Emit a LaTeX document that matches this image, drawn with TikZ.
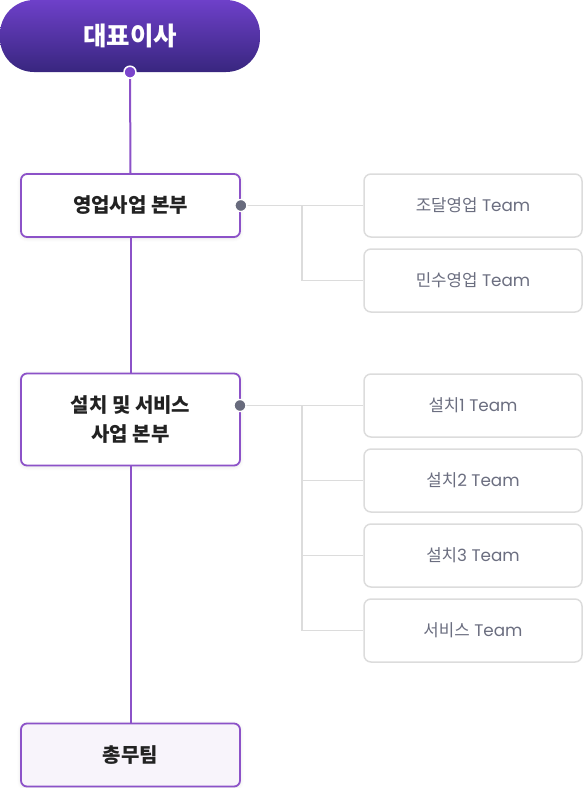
\documentclass[tikz,border=0pt]{standalone}
\usepackage{fontspec}
\setmainfont{Noto Sans CJK KR}
\newfontfamily\pop{Poppins}
\usetikzlibrary{shadows.blur}
\definecolor{topA}{HTML}{6E40C9}
\definecolor{topB}{HTML}{38267F}
\definecolor{pline}{HTML}{8C52C8}
\definecolor{gline}{HTML}{DCDCDC}
\definecolor{gtext}{HTML}{6B6E80}
\definecolor{dtext}{HTML}{222222}
\definecolor{lav}{HTML}{F8F4FB}
\definecolor{gdot}{HTML}{686B7D}
\definecolor{pdot}{HTML}{7B45CC}
\tikzset{
  x=1pt, y=-1pt,
  headbox/.style={rounded corners=34pt, top color=topA, bottom color=topB, draw=none,
    minimum width=260pt, minimum height=72pt, inner sep=0pt, text=white, font=\bfseries\fontsize{25.5}{30}\selectfont},
  divbox/.style={rounded corners=6pt, draw=pline, line width=1.8pt, fill=white,
    minimum width=219pt, minimum height=63pt, inner sep=0pt, text=dtext, align=center,
    font=\bfseries\fontsize{20}{28.5}\selectfont, blur shadow={shadow blur steps=6, shadow xshift=0pt, shadow yshift=-1pt, shadow opacity=12, shadow blur radius=4pt}},
  teambox/.style={rounded corners=7pt, draw=gline, line width=1.5pt, fill=white,
    minimum width=218pt, minimum height=63pt, inner sep=0pt, text=gtext, font=\fontsize{16.8}{20}\selectfont},
  pconn/.style={draw=pline, line width=2pt},
  gconn/.style={draw=gline, line width=1.7pt},
  gdotst/.style={circle, fill=gdot, draw=white, line width=1.3pt, minimum size=12pt, inner sep=0pt},
  pdotst/.style={circle, fill=pdot, draw=white, line width=1.5pt, minimum size=12pt, inner sep=0pt}
}
\newcommand{\tm}[1]{#1{\pop\ Team}}
\begin{document}
\begin{tikzpicture}
\useasboundingbox (0,0) rectangle (583,788);
% nodes
\node[headbox] (ceo) at (130,36) {대표이사};
\node[divbox] (d1) at (130.5,205.5) {영업사업 본부};
\node[divbox, minimum height=92pt] (d2) at (130.5,419.5) {설치 및 서비스\\사업 본부};
\node[divbox, fill=lav] (d3) at (130.5,755) {총무팀};

\node[teambox] (t1) at (473,205.5) {\tm{조달영업}};
\node[teambox] (t2) at (473,280.5) {\tm{민수영업}};
\node[teambox] (t3) at (473,405.5) {설치{\pop 1 Team}};
\node[teambox] (t4) at (473,480.5) {설치{\pop 2 Team}};
\node[teambox] (t5) at (473,555.5) {설치{\pop 3 Team}};
\node[teambox] (t6) at (473,630.5) {\tm{서비스}};

% junction coordinates
\coordinate (j1) at (302,205.5);
\coordinate (j2) at (302,405.5);

% purple spine
\draw[pconn] (ceo.south) -- (d1.north);
\draw[pconn] (d1.south) -- (d2.north);
\draw[pconn] (d2.south) -- (d3.north);

% grey connectors
\coordinate (p1) at (d1.east);
\coordinate (p2) at (240,405.5);
\draw[gconn] (p1) -- (t1.west);
\draw[gconn] (j1) |- (t2.west);
\draw[gconn] (p2) -- (t3.west);
\draw[gconn] (j2) |- (t4.west);
\draw[gconn] (j2) |- (t5.west);
\draw[gconn] (j2) |- (t6.west);

% dots
\node[pdotst] (dot0) at (ceo.south) {};
\node[gdotst] (dot1) at (p1) {};
\node[gdotst] (dot2) at (p2) {};
\end{tikzpicture}
\end{document}
